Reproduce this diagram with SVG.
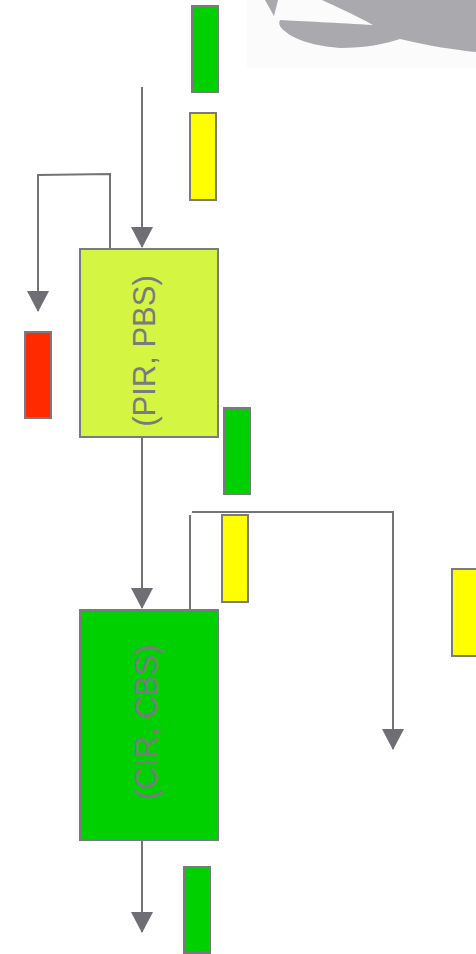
<svg xmlns="http://www.w3.org/2000/svg" width="476" height="954" viewBox="0 0 476 954">
<style>
.bar{stroke:#7a7a80;stroke-width:2}
.g{fill:#00d000}.y{fill:#ffff00}.r{fill:#ff2a00}
.box{stroke:#7a7a80;stroke-width:2}
.lbl{font-family:"Liberation Sans",Arial,sans-serif;font-size:31px;fill:#7a7a80;text-anchor:middle}
.c{fill:none;stroke:#737378;stroke-width:2}
</style>
<defs>
<marker id="ah" markerUnits="userSpaceOnUse" markerWidth="21" markerHeight="22" refX="20" refY="11" orient="auto" viewBox="0 0 21 22">
<path d="M0,0 L21,11 L0,22 Z" fill="#6e6e74"/>
</marker>
</defs>
<rect width="476" height="954" fill="#ffffff"/>
<g id="logo">
<rect x="247" y="0" width="229" height="68" fill="#fbfbfc"/>
<path d="M265,0 L274,16 L278,0 Z" fill="#a9a9ae"/>
<path d="M322,0 L476,0 L476,52 C455,50 430,46 400,39 C385,44 365,48 340,48 C315,46 295,40 286,32 C280,28 278,24 280,20 C300,21 340,23 373,25 C355,15 335,6 322,0 Z" fill="#a9a9ae"/>
</g>
<g id="connectors">
<path class="c" d="M142,87 V247" marker-end="url(#ah)"/>
<path class="c" d="M110,249 V174 L38,175 V311" marker-end="url(#ah)"/>
<path class="c" d="M142,437 V608" marker-end="url(#ah)"/>
<path class="c" d="M190,610 V515"/>
<path class="c" d="M192,512 H393 V749" marker-end="url(#ah)"/>
<path class="c" d="M142,840 V932" marker-end="url(#ah)"/>
</g>
<g id="pir">
<rect class="box" x="80" y="249" width="138" height="188" fill="#d4f542"/>
<text class="lbl" transform="translate(155,351) rotate(-90)">(PIR, PBS)</text>
</g>
<g id="cir">
<rect class="box" x="80" y="610" width="138" height="230" fill="#00d000"/>
<text class="lbl" transform="translate(157,722) rotate(-90)">(CIR, CBS)</text>
</g>
<g id="bar-green-1"><rect class="bar g" x="192" y="6" width="26" height="86"/></g>
<g id="bar-yellow-1"><rect class="bar y" x="190" y="113" width="26" height="87"/></g>
<g id="bar-red"><rect class="bar r" x="25" y="332" width="26" height="86"/></g>
<g id="bar-green-2"><rect class="bar g" x="224" y="408" width="26" height="86"/></g>
<g id="bar-yellow-2"><rect class="bar y" x="222" y="515" width="26" height="87"/></g>
<g id="bar-yellow-3"><rect class="bar y" x="452" y="569" width="30" height="87"/></g>
<g id="bar-green-3"><rect class="bar g" x="184" y="867" width="26" height="86"/></g>
</svg>
